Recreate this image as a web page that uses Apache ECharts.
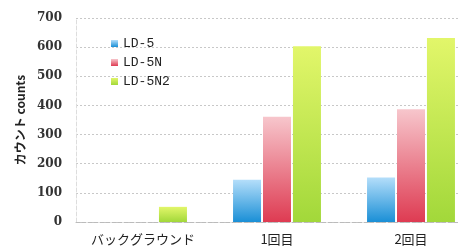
<!DOCTYPE html>
<html>
<head>
<meta charset="utf-8">
<script src="https://cdn.jsdelivr.net/npm/echarts@6/dist/echarts.min.js"></script>
<style>
  html, body { margin: 0; padding: 0; background: #fff; }
  #chart { width: 458px; height: 249px; }
</style>
</head>
<body>
<div id="chart"></div>
<script>
const categories = ["バックグラウンド", "1回目", "2回目"];
const seriesNames = ["LD-5", "LD-5N", "LD-5N2"];
const ld5 = [0, 145, 153];
const ld5n = [0, 361, 387];
const ld5n2 = [52, 603, 631];

const grad = (top, bottom) =>
  new echarts.graphic.LinearGradient(0, 0, 0, 1, [
    { offset: 0, color: top },
    { offset: 1, color: bottom },
  ]);

const chart = echarts.init(document.getElementById("chart"));

const option = {
  animation: false,
  // plot runs off the right edge in the original
  grid: { left: 76, width: 402, top: 18, bottom: 27, outerBoundsMode: "none" },
  legend: {
    orient: "vertical",
    left: 106,
    top: 32,
    itemWidth: 7,
    itemHeight: 7,
    itemGap: 6,
    icon: "rect",
    textStyle: { fontFamily: "Liberation Mono", fontSize: 13, color: "#222" },
    data: seriesNames,
  },
  xAxis: {
    type: "category",
    data: categories,
    axisTick: { show: false },
    axisLine: { lineStyle: { color: "#bbb", type: "dashed" } },
    axisLabel: {
      interval: 0,
      fontFamily: "Noto Sans CJK JP",
      fontSize: 13,
      color: "#222",
      margin: 11,
    },
  },
  yAxis: {
    type: "value",
    min: 0,
    max: 700,
    interval: 100,
    name: "カウント counts",
    nameLocation: "middle",
    nameGap: 50,
    nameTextStyle: {
      fontFamily: "Noto Sans CJK JP",
      fontWeight: "bold",
      fontSize: 12,
      color: "#222",
    },
    axisLine: { show: true, lineStyle: { color: "#ddd", type: "dashed" } },
    axisLabel: {
      fontFamily: "DejaVu Serif",
      fontWeight: "bold",
      fontSize: 12,
      color: "#333",
      margin: 14,
    },
    splitLine: { lineStyle: { color: "#c8c8c8", type: [2, 2] } },
  },
  series: [
    {
      name: seriesNames[0],
      type: "bar",
      data: ld5,
      barWidth: 28,
      barGap: "7%",
      itemStyle: { color: grad("#b4defa", "#1a8fd6") },
    },
    {
      name: seriesNames[1],
      type: "bar",
      data: ld5n,
      barWidth: 28,
      barGap: "7%",
      itemStyle: { color: grad("#f7c6cc", "#de3b52") },
    },
    {
      name: seriesNames[2],
      type: "bar",
      data: ld5n2,
      barWidth: 28,
      barGap: "7%",
      itemStyle: { color: grad("#e2f66a", "#a2d83a") },
    },
  ],
};

chart.setOption(option);
</script>
</body>
</html>
